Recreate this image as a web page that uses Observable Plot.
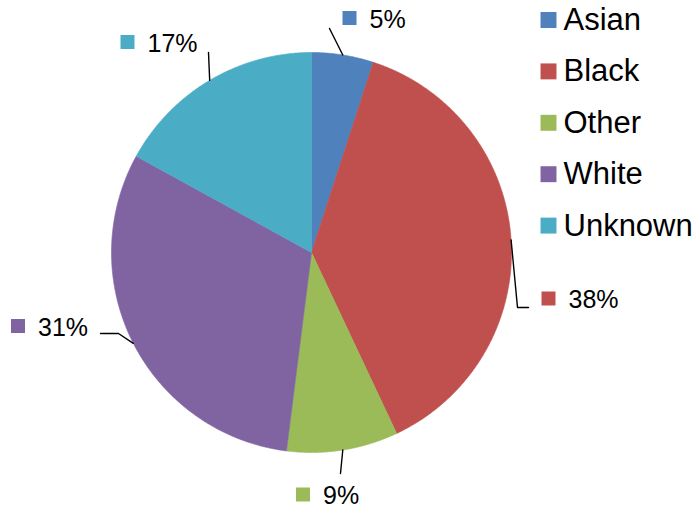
<!DOCTYPE html>
<html>
<head>
<meta charset="utf-8">
<script src="https://cdn.jsdelivr.net/npm/d3@7"></script>
<script src="https://cdn.jsdelivr.net/npm/@observablehq/plot@0.6"></script>
<style>
  html, body { margin: 0; padding: 0; background: #fff; }
  #chart svg { display: block; }
</style>
</head>
<body>
<div id="chart"></div>
<script>
// ---- data ----
const races = ["Asian", "Black", "Other", "White", "Unknown"];
const shares = [5, 38, 9, 31, 17];
const colors = ["#4F81BD", "#C0504D", "#9BBB59", "#8064A2", "#4BACC6"];

// ---- layout (pixels) ----
const W = 697, H = 512;
const cx = 311, cy = 252, R = 200;
const labelSquares = [[349, 17.5], [548, 298], [302.5, 494], [17.5, 325.5], [127, 41.5]];
const leaderEnds = [[[329, 28]], [[517, 307], [528, 307]], [[340, 473]], [[118, 333], [100, 333]], [[208, 52]]];
const legendX = 548, legendY0 = 19.5, legendStep = 51.4, legendTextDx = 15;
const font = "Liberation Sans, Arial, Helvetica, sans-serif";

// ---- build slices ----
const total = d3.sum(shares);
let cum = 0;
const slicePts = [];
const mids = [];
races.forEach((race, i) => {
  const a0 = cum / total * 2 * Math.PI;
  cum += shares[i];
  const a1 = cum / total * 2 * Math.PI;
  mids.push((a0 + a1) / 2);
  slicePts.push({race, x: cx, y: cy});
  const n = Math.max(2, Math.ceil((a1 - a0) / (Math.PI / 360)));
  for (let k = 0; k <= n; k++) {
    const a = a0 + (a1 - a0) * k / n;
    slicePts.push({race, x: cx + R * Math.sin(a), y: cy - R * Math.cos(a)});
  }
  slicePts.push({race, x: cx, y: cy});
});

const leaderPts = [];
races.forEach((race, i) => {
  const a = mids[i];
  leaderPts.push({race, x: cx + R * Math.sin(a), y: cy - R * Math.cos(a)});
  leaderEnds[i].forEach(([x, y]) => leaderPts.push({race, x, y}));
});

const labels = races.map((race, i) => ({race, x: labelSquares[i][0], y: labelSquares[i][1], text: `${shares[i]}%`}));
const legend = races.map((race, i) => ({race, x: legendX, y: legendY0 + i * legendStep}));

const chart = Plot.plot({
  width: W, height: H,
  margin: 0,
  x: {domain: [0, W], range: [0, W], axis: null},
  y: {domain: [0, H], range: [0, H], axis: null},
  color: {type: "ordinal", domain: races, range: colors},
  style: {fontFamily: font, background: "white"},
  marks: [
    Plot.line(slicePts, {x: "x", y: "y", z: "race", fill: "race", stroke: "race", strokeWidth: 0.6, curve: "linear"}),
    Plot.line(leaderPts, {x: "x", y: "y", z: "race", stroke: "black", strokeWidth: 1.4, curve: "linear"}),
    Plot.dot(labels, {x: "x", y: "y", fill: "race", symbol: "square", r: 7.9, stroke: null}),
    Plot.text(labels, {x: d => d.x + 20, y: d => d.y + 1.5, text: "text", textAnchor: "start", fontSize: 25, fill: "black"}),
    Plot.dot(legend, {x: "x", y: "y", fill: "race", symbol: "square", r: 9, stroke: null}),
    Plot.text(legend, {x: d => d.x + legendTextDx, y: d => d.y, text: "race", textAnchor: "start", fontSize: 31, fill: "black"})
  ]
});
document.getElementById("chart").appendChild(chart);
</script>
</body>
</html>
